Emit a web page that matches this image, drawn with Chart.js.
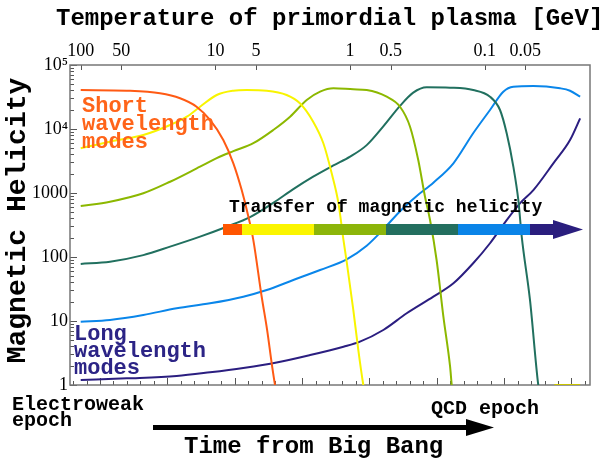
<!DOCTYPE html>
<html>
<head>
<meta charset="utf-8">
<title>Magnetic helicity transfer</title>
<script src="https://cdn.jsdelivr.net/npm/chart.js@4.4.1/dist/chart.umd.min.js"></script>
<style>
  html, body { margin: 0; padding: 0; background: #fff; }
</style>
</head>
<body>
<canvas id="helicity" width="605" height="458"></canvas>
<script>
// Each mode: [temperature in GeV, magnetic helicity]
const orangeMode = [[100, 40650], [45.5, 39650], [25.8, 36130], [18.3, 30200], [13.8, 22290], [10.96, 13830], [8.74, 6730], [7.36, 2910], [6.38, 1110], [5.73, 453], [5.23, 184], [4.53, 23.7], [4.13, 7.2], [3.82, 2.18], [3.61, 1.0], [3.45, 0.6]];
const yellowMode = [[100, 4990], [60.6, 6340], [34.3, 8060], [21.7, 11550], [16.3, 15560], [13.0, 22290], [9.78, 33980], [7.36, 39650], [5.86, 40650], [4.16, 39650], [2.96, 33980], [2.36, 25230], [1.88, 13010], [1.58, 5980], [1.37, 2030], [1.22, 690], [1.12, 184], [1.06, 84], [0.947, 14.9], [0.869, 3.52], [0.798, 1.0], [0.775, 0.7]];
const greenMode = [[100, 627], [60.6, 731], [34.3, 989], [21.7, 1500], [13.0, 2580], [9.78, 3500], [7.36, 4500], [5.23, 6000], [3.72, 9640], [2.79, 15560], [2.10, 28380], [1.67, 38280], [1.33, 43250], [0.947, 41700], [0.753, 40650], [0.535, 31990], [0.426, 22290], [0.359, 10860], [0.312, 3280], [0.278, 875], [0.255, 378], [0.228, 89.8], [0.203, 11.7], [0.181, 1.93], [0.176, 1.0], [0.172, 0.7]];
const tealMode = [[100, 77.8], [60.6, 84.5], [34.3, 107], [21.7, 145], [13.0, 208], [8.24, 297], [5.53, 420], [3.72, 700], [2.64, 1150], [1.88, 1800], [1.33, 2700], [1.00, 3700], [0.753, 5600], [0.567, 11000], [0.426, 23000], [0.340, 37000], [0.270, 44850], [0.181, 44200], [0.122, 40650], [0.0915, 31990], [0.0771, 19810], [0.0688, 8570], [0.0614, 2580], [0.0564, 778], [0.0532, 208], [0.0462, 21.3], [0.0401, 1.0], [0.0389, 0.7]];
const blueMode = [[100, 9.75], [60.6, 10.4], [34.3, 12.4], [19.4, 15.8], [10.96, 18.9], [6.21, 24.0], [4.16, 30.5], [2.64, 43.7], [1.67, 62.7], [1.06, 92], [0.753, 150], [0.567, 270], [0.426, 520], [0.320, 900], [0.241, 1450], [0.171, 2910], [0.122, 8570], [0.0915, 19810], [0.0729, 38280], [0.0614, 45800], [0.0436, 47000], [0.0276, 43250], [0.0233, 39650], [0.0196, 31990]];
const navyMode = [[100, 1.20], [45.5, 1.27], [19.4, 1.38], [10.96, 1.58], [6.21, 1.85], [3.51, 2.25], [1.98, 2.94], [1.12, 3.97], [0.845, 4.75], [0.567, 7.23], [0.380, 13.2], [0.241, 24.0], [0.171, 38.8], [0.122, 79.8], [0.0915, 164], [0.0688, 378], [0.0548, 690], [0.0436, 1110], [0.0310, 2910], [0.0233, 6730], [0.0196, 14690]];
const nextYellowMode = [[0.0305, 1], [0.0196, 1]];

// Axis ticks
const tempTicks = [100, 50, 10, 5, 1, 0.5, 0.1, 0.05];
const tempTickLabels = ['100', '50', '10', '5', '1', '0.5', '0.1', '0.05'];
const helicityTicks = [1, 10, 100, 1000, 10000, 100000];
const helicityTickLabels = ['1', '10', '100', '1000', '10\u2074', '10\u2075'];

const modes = [
    { data: orangeMode, color: '#ff5a14' },
    { data: yellowMode, color: '#f8f400' },
    { data: greenMode, color: '#8cb800' },
    { data: tealMode, color: '#21705f' },
    { data: blueMode, color: '#0a86ea' },
    { data: navyMode, color: '#2b1e80' },
    { data: nextYellowMode, color: '#c9c400' }
];

const monoFont = size => `bold ${size}px "Liberation Mono", "Courier New", monospace`;
const serifFont = { family: '"Liberation Serif", "Times New Roman", serif', size: 18 };

// Frame and inward tick marks
const frameTicks = {
    id: 'frameTicks',
    beforeDatasetsDraw(chart) {
        const { ctx, chartArea: a, scales } = chart;
        ctx.save();
        ctx.strokeStyle = '#555';
        ctx.lineWidth = 1;
        ctx.beginPath();
        scales.y.ticks.forEach(t => {
            const py = Math.round(scales.y.getPixelForValue(t.value)) + 0.5;
            const len = helicityTicks.includes(t.value) ? 7 : 4;
            ctx.moveTo(a.left, py);
            ctx.lineTo(a.left + len, py);
        });
        scales.temp.ticks.forEach(t => {
            const px = Math.round(scales.temp.getPixelForValue(t.value)) + 0.5;
            ctx.moveTo(px, a.top);
            ctx.lineTo(px, a.top + 5);
        });
        scales.x.ticks.forEach(t => {
            const px = Math.round(scales.x.getPixelForValue(t.value)) + 0.5;
            const major = Math.abs(t.value - Math.round(t.value)) < 1e-6;
            ctx.moveTo(px, a.bottom);
            ctx.lineTo(px, a.bottom - (major ? 7 : 4));
        });
        ctx.stroke();
        ctx.strokeStyle = '#777';
        ctx.lineWidth = 1.5;
        ctx.strokeRect(a.left, a.top, a.right - a.left, a.bottom - a.top);
        ctx.restore();
    }
};

// Titles, labels and arrows drawn over the curves
const notes = {
    id: 'notes',
    afterDatasetsDraw(chart) {
        const ctx = chart.ctx;
        ctx.save();
        ctx.textAlign = 'left';
        ctx.textBaseline = 'alphabetic';
        ctx.fillStyle = '#000';

        ctx.font = monoFont(24);
        ctx.fillText('Temperature of primordial plasma [GeV]', 56, 25);

        ctx.save();
        ctx.translate(25, 220.5);
        ctx.rotate(-Math.PI / 2);
        ctx.textAlign = 'center';
        ctx.font = monoFont(28);
        ctx.fillText('Magnetic Helicity', 0, 0);
        ctx.restore();

        ctx.font = monoFont(22);
        ctx.fillStyle = '#ff6419';
        ['Short', 'wavelength', 'modes'].forEach((s, i) => ctx.fillText(s, 82, 112 + i * 18));
        ctx.fillStyle = '#2c2486';
        ['Long', 'wavelength', 'modes'].forEach((s, i) => ctx.fillText(s, 74, 340 + i * 17));

        ctx.font = monoFont(18);
        ctx.fillStyle = '#000';
        ctx.fillText('Transfer of magnetic helicity', 229, 212);

        // colour bar arrow
        const bar = [[223, 242, '#ff5500'], [242, 314, '#fbf500'], [314, 386, '#8cb50a'],
                     [386, 458, '#236f5f'], [458, 530, '#0a84e8'], [530, 554, '#2a1e7e']];
        bar.forEach(([x0, x1, c]) => {
            ctx.fillStyle = c;
            ctx.fillRect(x0, 224, x1 - x0, 11);
        });
        ctx.fillStyle = '#2a1e7e';
        ctx.beginPath();
        ctx.moveTo(553, 220);
        ctx.lineTo(583, 229.5);
        ctx.lineTo(553, 239);
        ctx.closePath();
        ctx.fill();

        ctx.fillStyle = '#000';
        ctx.font = monoFont(20);
        ctx.fillText('Electroweak', 12, 410);
        ctx.fillText('epoch', 12, 426);
        ctx.fillText('QCD epoch', 431, 414);

        ctx.font = monoFont(24);
        ctx.fillText('Time from Big Bang', 184, 453);

        // time arrow
        ctx.fillRect(153, 425, 314, 5);
        ctx.beginPath();
        ctx.moveTo(466, 419);
        ctx.lineTo(494, 427.5);
        ctx.lineTo(466, 436);
        ctx.closePath();
        ctx.fill();
        ctx.restore();
    }
};

new Chart(document.getElementById('helicity'), {
    type: 'line',
    data: {
        datasets: modes.map(m => ({
            data: m.data.map(([t, h]) => ({ x: t, y: h })),
            borderColor: m.color,
            borderWidth: 2,
            pointRadius: 0,
            fill: false,
            cubicInterpolationMode: 'monotone',
            xAxisID: 'temp',
            yAxisID: 'y'
        }))
    },
    options: {
        responsive: false,
        animation: false,
        devicePixelRatio: 1,
        layout: { padding: { left: 0, right: 15, top: 0, bottom: 0 } },
        plugins: {
            legend: { display: false },
            tooltip: { enabled: false }
        },
        scales: {
            temp: {
                axis: 'x',
                type: 'logarithmic',
                position: 'top',
                reverse: true,
                min: 0.01656,
                max: 120.1,
                afterBuildTicks: s => { s.ticks = tempTicks.map(v => ({ value: v })); },
                afterFit: s => { s.height = 65; },
                grid: { display: false, drawTicks: false },
                border: { display: false },
                ticks: {
                    autoSkip: false,
                    maxRotation: 0,
                    padding: 3,
                    color: '#000',
                    font: serifFont,
                    callback: (v, i) => tempTickLabels[i]
                }
            },
            // time from the Big Bang, in decades, ticks only
            x: {
                type: 'linear',
                position: 'bottom',
                min: -0.445,
                max: 7.275,
                afterBuildTicks: s => {
                    const ticks = [];
                    for (let k = -2; k <= 36; k++) ticks.push({ value: k / 5 });
                    s.ticks = ticks;
                },
                afterFit: s => { s.height = 73; },
                grid: { display: false, drawTicks: false },
                border: { display: false },
                ticks: { display: false }
            },
            y: {
                type: 'logarithmic',
                position: 'left',
                min: 1,
                max: 100000,
                afterBuildTicks: s => {
                    const ticks = [];
                    helicityTicks.slice(0, -1).forEach(d => {
                        for (let m = 1; m <= 9; m++) ticks.push({ value: m * d });
                    });
                    ticks.push({ value: 100000 });
                    s.ticks = ticks;
                },
                afterFit: s => { s.width = 70; },
                grid: { display: false, drawTicks: false },
                border: { display: false },
                ticks: {
                    autoSkip: false,
                    padding: 2,
                    color: '#000',
                    font: serifFont,
                    callback: v => {
                        const i = helicityTicks.indexOf(v);
                        return i >= 0 ? helicityTickLabels[i] : '';
                    }
                }
            }
        }
    },
    plugins: [frameTicks, notes]
});
</script>
</body>
</html>
